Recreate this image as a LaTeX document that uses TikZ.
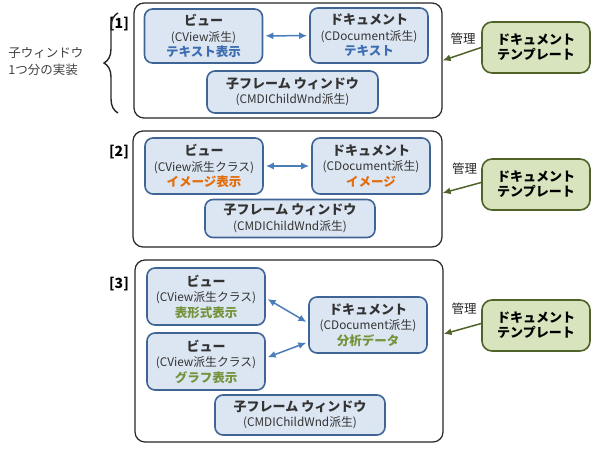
\documentclass[tikz,border=0pt]{standalone}
\usepackage{fontspec}
\setmainfont{Noto Sans CJK JP}
\usepackage{tikz}
\usetikzlibrary{arrows.meta,decorations.pathreplacing}
\definecolor{partfill}{HTML}{DCE6F2}
\definecolor{partline}{HTML}{3E6596}
\definecolor{tmplfill}{HTML}{D7E4BD}
\definecolor{tmplline}{HTML}{4F6228}
\definecolor{blueT}{HTML}{3C6DB0}
\definecolor{orangeT}{HTML}{E46C0A}
\definecolor{greenT}{HTML}{76923C}
\definecolor{linkline}{HTML}{4A7EBB}
\newcommand{\Ttl}[1]{{\fontsize{13}{15.5}\selectfont\bfseries #1}}
\newcommand{\Note}[2]{{\fontsize{12.5}{15.5}\selectfont\bfseries\color{#1}#2}}
\tikzset{Outer/.style={draw=black!85,line width=1.2pt,rounded corners=10pt,fill=white,inner sep=0pt},
	Part/.style={draw=partline,line width=1.6pt,rounded corners=8pt,fill=partfill,inner sep=0pt,align=center,
		font=\fontsize{11.8}{15.5}\selectfont,text=black!80,minimum width=118pt},
	Tmpl/.style={draw=tmplline,line width=1.6pt,rounded corners=10pt,fill=tmplfill,inner sep=0pt,align=center,
		font=\fontsize{13}{15}\selectfont\bfseries,minimum width=108pt,minimum height=51pt},
	Num/.style={font=\fontsize{14}{15}\selectfont\bfseries},
	Kanri/.style={font=\fontsize{12.5}{15}\selectfont,text=black!85},
	link/.style={{Latex[length=8pt,width=7pt]}-{Latex[length=8pt,width=7pt]},linkline,line width=1.5pt,shorten <=2pt,shorten >=2pt},
	manage/.style={-{Latex[length=8pt,width=7pt]},tmplline,line width=1.5pt}}

\begin{document}
\begin{tikzpicture}[x=1pt,y=-1pt]
	\useasboundingbox (0,0) rectangle (600,450);
	% [1]
	\node[Outer,minimum width=308pt,minimum height=115pt] (W1) at (288,60.5) {};
	\node[Num] (N1) at (119,24) {[1]};
	\node[Part,minimum height=54pt] (V1) at (203.5,36) {\Ttl{ビュー}\\(CView派生)\\\Note{blueT}{テキスト表示}};
	\node[Part,minimum height=55pt] (D1) at (369,35.5) {\Ttl{ドキュメント}\\(CDocument派生)\\\Note{blueT}{テキスト}};
	\node[Part,minimum width=171pt,minimum height=42pt] (F1) at (292.5,92) {\Ttl{子フレーム ウィンドウ}\\(CMDIChildWnd派生)};
	\node[Tmpl] (T1) at (536,47.5) {ドキュメント\\テンプレート};
	\node[Kanri] (K1) at (463,38.5) {管理};
	\coordinate (Bt) at (118,13);
	\coordinate (Bb) at (118,113);
	\draw[black!85,line width=1.4pt,decorate,decoration={brace,amplitude=14pt}] (Bb) -- (Bt);
	\node[align=left,font=\fontsize{12.5}{17}\selectfont,text=black!75] (L1) at (46,62) {子ウィンドウ\\1つ分の実装};
	%
	\path[link] (V1) edge (D1);
	\path[manage] (T1.west) edge (W1.east);
	% [2]
	\node[Outer,minimum width=309pt,minimum height=116pt] (W2) at (287.5,189) {};
	\node[Num] (N2) at (119,152) {[2]};
	\node[Part,minimum height=56pt] (V2) at (204,166) {\Ttl{ビュー}\\(CView派生クラス)\\\Note{orangeT}{イメージ表示}};
	\node[Part,minimum height=56pt] (D2) at (371,166) {\Ttl{ドキュメント}\\(CDocument派生)\\\Note{orangeT}{イメージ}};
	\node[Part,minimum width=170pt,minimum height=38pt] (F2) at (290,218.5) {\Ttl{子フレーム ウィンドウ}\\(CMDIChildWnd派生)};
	\node[Tmpl] (T2) at (536,184.5) {ドキュメント\\テンプレート};
	\node[Kanri] (K2) at (464.5,169) {管理};
	%
	\path[link] (V2) edge (D2);
	\path[manage] ([yshift=2pt]T2.west) edge ([yshift=-4pt]W2.east);
	% [3]
	\node[Outer,minimum width=308pt,minimum height=182pt] (W3) at (289,351) {};
	\node[Num] (N3) at (119,284) {[3]};
	\node[Part,minimum height=57pt] (V3a) at (206,296.5) {\Ttl{ビュー}\\(CView派生クラス)\\\Note{greenT}{表形式表示}};
	\node[Part,minimum height=57pt] (V3b) at (206,361.5) {\Ttl{ビュー}\\(CView派生クラス)\\\Note{greenT}{グラフ表示}};
	\node[Part,minimum height=56pt] (D3) at (368,325) {\Ttl{ドキュメント}\\(CDocument派生)\\\Note{greenT}{分析データ}};
	\node[Part,minimum width=170pt,minimum height=40pt] (F3) at (300,415) {\Ttl{子フレーム ウィンドウ}\\(CMDIChildWnd派生)};
	\node[Tmpl] (T3) at (536,325.5) {ドキュメント\\テンプレート};
	\node[Kanri] (K3) at (464,309) {管理};
	%
	\path[link]
	([yshift=-1.5pt]V3a.east) edge ([yshift=2pt]D3.west)
	([yshift=3.5pt]V3b.east) edge ([yshift=-17pt]D3.west);
	\path[manage] ([yshift=2pt]T3.west) edge ([yshift=17pt]W3.east);
\end{tikzpicture}
\end{document}
